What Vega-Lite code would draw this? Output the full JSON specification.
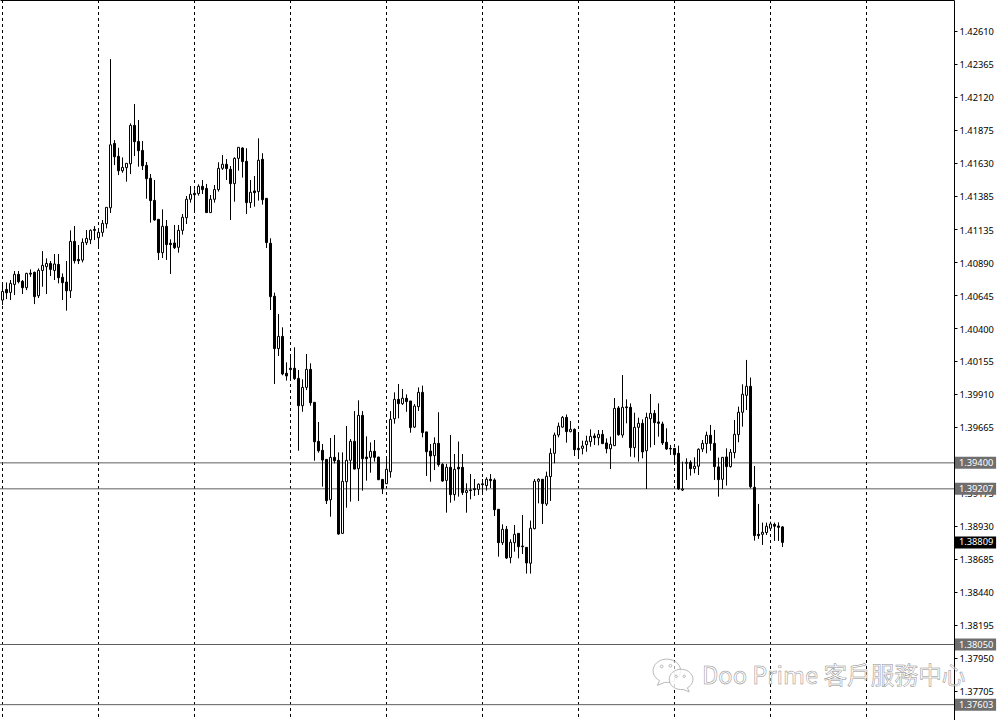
{"$schema":"https://vega.github.io/schema/vega-lite/v6.json","width":954,"height":720,"autosize":{"type":"none"},"padding":{"left":0,"top":0,"right":44,"bottom":0},"background":"#ffffff","config":{"view":{"stroke":null}},
"datasets":{"candles":[
{"i":0,"o":1.4061,"h":1.40741,"l":1.40573,"c":1.40674},{"i":1,"o":1.40689,"h":1.40741,"l":1.40617,"c":1.40664},{"i":2,"o":1.40667,"h":1.40759,"l":1.4061,"c":1.40734},{"i":3,"o":1.40726,"h":1.40826,"l":1.40647,"c":1.40801},{"i":4,"o":1.40801,"h":1.40826,"l":1.40734,"c":1.40746},{"i":5,"o":1.40749,"h":1.40759,"l":1.40655,"c":1.40702},{"i":6,"o":1.40702,"h":1.40813,"l":1.40684,"c":1.40808},{"i":7,"o":1.4081,"h":1.40838,"l":1.40783,"c":1.40803},{"i":8,"o":1.40816,"h":1.40821,"l":1.4058,"c":1.40635},{"i":9,"o":1.40642,"h":1.40845,"l":1.40625,"c":1.4083},
{"i":10,"o":1.4083,"h":1.40974,"l":1.40709,"c":1.40868},{"i":11,"o":1.40858,"h":1.4092,"l":1.40655,"c":1.40882},{"i":12,"o":1.40882,"h":1.409,"l":1.40788,"c":1.40838},{"i":13,"o":1.4083,"h":1.40952,"l":1.40759,"c":1.40878},{"i":14,"o":1.40875,"h":1.40952,"l":1.40734,"c":1.40776},{"i":15,"o":1.40779,"h":1.40808,"l":1.4061,"c":1.40739},{"i":16,"o":1.40744,"h":1.409,"l":1.40531,"c":1.40679},{"i":17,"o":1.40679,"h":1.41128,"l":1.40625,"c":1.41046},{"i":18,"o":1.41046,"h":1.4116,"l":1.40882,"c":1.40902},{"i":19,"o":1.40912,"h":1.41019,"l":1.40878,"c":1.40902},
{"i":20,"o":1.40907,"h":1.41068,"l":1.4089,"c":1.41039},{"i":21,"o":1.41036,"h":1.4113,"l":1.41019,"c":1.41068},{"i":22,"o":1.41058,"h":1.41135,"l":1.41026,"c":1.41128},{"i":23,"o":1.41135,"h":1.4116,"l":1.41056,"c":1.41128},{"i":24,"o":1.41073,"h":1.41143,"l":1.40989,"c":1.41113},{"i":25,"o":1.41113,"h":1.41205,"l":1.41081,"c":1.4118},{"i":26,"o":1.41177,"h":1.41299,"l":1.41143,"c":1.41299},{"i":27,"o":1.41296,"h":1.42401,"l":1.41257,"c":1.41764},{"i":28,"o":1.41774,"h":1.41799,"l":1.41613,"c":1.41675},{"i":29,"o":1.41678,"h":1.41742,"l":1.41539,"c":1.41571},
{"i":30,"o":1.41571,"h":1.4167,"l":1.41556,"c":1.41596},{"i":31,"o":1.41594,"h":1.41626,"l":1.4149,"c":1.41626},{"i":32,"o":1.41623,"h":1.41923,"l":1.41546,"c":1.41908},{"i":33,"o":1.41908,"h":1.42067,"l":1.4168,"c":1.41787},{"i":34,"o":1.41789,"h":1.41948,"l":1.41601,"c":1.4172},{"i":35,"o":1.41722,"h":1.41792,"l":1.41576,"c":1.41608},{"i":36,"o":1.41611,"h":1.41636,"l":1.41363,"c":1.41512},{"i":37,"o":1.41515,"h":1.41547,"l":1.41185,"c":1.41349},{"i":38,"o":1.41351,"h":1.41502,"l":1.412,"c":1.41205},{"i":39,"o":1.4121,"h":1.4121,"l":1.40908,"c":1.40962},
{"i":40,"o":1.40962,"h":1.41284,"l":1.40923,"c":1.41158},{"i":41,"o":1.41158,"h":1.41205,"l":1.40908,"c":1.41022},{"i":42,"o":1.41032,"h":1.41061,"l":1.40804,"c":1.41022},{"i":43,"o":1.41034,"h":1.41168,"l":1.4099,"c":1.40999},{"i":44,"o":1.41002,"h":1.41168,"l":1.40962,"c":1.41128},{"i":45,"o":1.41128,"h":1.4125,"l":1.41096,"c":1.41225},{"i":46,"o":1.41222,"h":1.41383,"l":1.41175,"c":1.41359},{"i":47,"o":1.41359,"h":1.41458,"l":1.41334,"c":1.41396},{"i":48,"o":1.41403,"h":1.41433,"l":1.4126,"c":1.41393},{"i":49,"o":1.41401,"h":1.4147,"l":1.41386,"c":1.41455},
{"i":50,"o":1.41455,"h":1.41502,"l":1.41398,"c":1.41431},{"i":51,"o":1.4144,"h":1.41473,"l":1.4126,"c":1.4126},{"i":52,"o":1.4126,"h":1.41391,"l":1.4126,"c":1.41359},{"i":53,"o":1.41359,"h":1.41465,"l":1.41334,"c":1.41431},{"i":54,"o":1.41431,"h":1.41634,"l":1.41416,"c":1.41589},{"i":55,"o":1.41589,"h":1.41688,"l":1.41577,"c":1.41619},{"i":56,"o":1.41619,"h":1.41658,"l":1.41502,"c":1.41587},{"i":57,"o":1.41582,"h":1.41606,"l":1.41205,"c":1.41475},{"i":58,"o":1.41475,"h":1.41671,"l":1.41341,"c":1.41663},{"i":59,"o":1.41663,"h":1.41745,"l":1.41572,"c":1.41745},
{"i":60,"o":1.4174,"h":1.41745,"l":1.4152,"c":1.41639},{"i":61,"o":1.41641,"h":1.41738,"l":1.4125,"c":1.41334},{"i":62,"o":1.41334,"h":1.41502,"l":1.41294,"c":1.41411},{"i":63,"o":1.41421,"h":1.41532,"l":1.41304,"c":1.41408},{"i":64,"o":1.41416,"h":1.41812,"l":1.41349,"c":1.41649},{"i":65,"o":1.41656,"h":1.41701,"l":1.41319,"c":1.41356},{"i":66,"o":1.41366,"h":1.41366,"l":1.40997,"c":1.41037},{"i":67,"o":1.41032,"h":1.41069,"l":1.40536,"c":1.40635},{"i":68,"o":1.40638,"h":1.40665,"l":1.39986,"c":1.40249},{"i":69,"o":1.40249,"h":1.40506,"l":1.40194,"c":1.4034},
{"i":70,"o":1.4034,"h":1.40407,"l":1.40051,"c":1.40061},{"i":71,"o":1.40066,"h":1.40147,"l":1.40011,"c":1.40046},{"i":72,"o":1.40103,"h":1.40209,"l":1.40016,"c":1.40093},{"i":73,"o":1.40103,"h":1.40259,"l":1.40016,"c":1.40026},{"i":74,"o":1.40028,"h":1.4009,"l":1.3949,"c":1.39825},{"i":75,"o":1.39825,"h":1.40021,"l":1.3978,"c":1.39961},{"i":76,"o":1.39961,"h":1.40209,"l":1.39941,"c":1.40095},{"i":77,"o":1.40095,"h":1.4014,"l":1.39825,"c":1.39847},{"i":78,"o":1.3985,"h":1.3985,"l":1.39416,"c":1.39557},{"i":79,"o":1.3956,"h":1.39704,"l":1.39476,"c":1.3949},
{"i":80,"o":1.39493,"h":1.3954,"l":1.39223,"c":1.39421},{"i":81,"o":1.39426,"h":1.39426,"l":1.39094,"c":1.39119},{"i":82,"o":1.39126,"h":1.39585,"l":1.39,"c":1.39441},{"i":83,"o":1.39441,"h":1.39607,"l":1.39396,"c":1.39416},{"i":84,"o":1.39419,"h":1.39478,"l":1.38866,"c":1.38871},{"i":85,"o":1.38876,"h":1.39478,"l":1.38876,"c":1.39263},{"i":86,"o":1.3926,"h":1.39674,"l":1.39067,"c":1.39419},{"i":87,"o":1.39419,"h":1.39577,"l":1.39112,"c":1.3956},{"i":88,"o":1.3956,"h":1.39785,"l":1.39352,"c":1.39354},{"i":89,"o":1.39357,"h":1.39865,"l":1.39116,"c":1.39753},
{"i":90,"o":1.39753,"h":1.39785,"l":1.39193,"c":1.39431},{"i":91,"o":1.39443,"h":1.39597,"l":1.39268,"c":1.39431},{"i":92,"o":1.39441,"h":1.39552,"l":1.39327,"c":1.39486},{"i":93,"o":1.39486,"h":1.3957,"l":1.39409,"c":1.39441},{"i":94,"o":1.39443,"h":1.39446,"l":1.39272,"c":1.39275},{"i":95,"o":1.39277,"h":1.39277,"l":1.39168,"c":1.39208},{"i":96,"o":1.39245,"h":1.39451,"l":1.39243,"c":1.39352},{"i":97,"o":1.39334,"h":1.39785,"l":1.3929,"c":1.39723},{"i":98,"o":1.39728,"h":1.39924,"l":1.39691,"c":1.39872},{"i":99,"o":1.39872,"h":1.39986,"l":1.39731,"c":1.3984},
{"i":100,"o":1.3984,"h":1.39949,"l":1.3983,"c":1.3988},{"i":101,"o":1.3988,"h":1.39909,"l":1.3978,"c":1.39855},{"i":102,"o":1.3986,"h":1.3986,"l":1.39624,"c":1.39662},{"i":103,"o":1.39666,"h":1.39837,"l":1.39659,"c":1.39822},{"i":104,"o":1.39818,"h":1.39961,"l":1.39786,"c":1.39924},{"i":105,"o":1.39924,"h":1.39974,"l":1.3959,"c":1.39625},{"i":106,"o":1.3963,"h":1.3963,"l":1.39303,"c":1.39483},{"i":107,"o":1.39488,"h":1.3954,"l":1.3926,"c":1.39451},{"i":108,"o":1.39454,"h":1.3959,"l":1.39347,"c":1.39545},{"i":109,"o":1.39545,"h":1.39776,"l":1.39372,"c":1.39387},
{"i":110,"o":1.39389,"h":1.39397,"l":1.3926,"c":1.39265},{"i":111,"o":1.3927,"h":1.39392,"l":1.3903,"c":1.39367},{"i":112,"o":1.39367,"h":1.39607,"l":1.39104,"c":1.39164},{"i":113,"o":1.39164,"h":1.39466,"l":1.39119,"c":1.39352},{"i":114,"o":1.39367,"h":1.39558,"l":1.39149,"c":1.39355},{"i":115,"o":1.39367,"h":1.39466,"l":1.39161,"c":1.39179},{"i":116,"o":1.39179,"h":1.39248,"l":1.3903,"c":1.39194},{"i":117,"o":1.39199,"h":1.39317,"l":1.39129,"c":1.39194},{"i":118,"o":1.39208,"h":1.3928,"l":1.39154,"c":1.39201},{"i":119,"o":1.39203,"h":1.39248,"l":1.39161,"c":1.39241},
{"i":120,"o":1.39244,"h":1.3928,"l":1.39161,"c":1.39238},{"i":121,"o":1.39231,"h":1.39293,"l":1.39194,"c":1.39278},{"i":122,"o":1.39278,"h":1.39317,"l":1.39213,"c":1.39268},{"i":123,"o":1.39273,"h":1.39285,"l":1.39005,"c":1.39052},{"i":124,"o":1.39055,"h":1.39055,"l":1.38703,"c":1.38807},{"i":125,"o":1.38807,"h":1.38943,"l":1.3879,"c":1.38906},{"i":126,"o":1.38906,"h":1.38931,"l":1.38686,"c":1.38693},{"i":127,"o":1.38696,"h":1.38832,"l":1.38654,"c":1.3881},{"i":128,"o":1.38807,"h":1.38938,"l":1.3874,"c":1.38869},{"i":129,"o":1.38876,"h":1.38876,"l":1.38691,"c":1.38777},
{"i":130,"o":1.38782,"h":1.39013,"l":1.38723,"c":1.38777},{"i":131,"o":1.38772,"h":1.38772,"l":1.38577,"c":1.38656},{"i":132,"o":1.38654,"h":1.38971,"l":1.38577,"c":1.38914},{"i":133,"o":1.38911,"h":1.3928,"l":1.38906,"c":1.39263},{"i":134,"o":1.39263,"h":1.39285,"l":1.39099,"c":1.39278},{"i":135,"o":1.39278,"h":1.39278,"l":1.38946,"c":1.39097},{"i":136,"o":1.39094,"h":1.39335,"l":1.3908,"c":1.393},{"i":137,"o":1.39298,"h":1.39508,"l":1.39117,"c":1.39471},{"i":138,"o":1.39471,"h":1.39625,"l":1.39397,"c":1.39607},{"i":139,"o":1.39607,"h":1.39699,"l":1.3959,"c":1.39672},
{"i":140,"o":1.39666,"h":1.39748,"l":1.39661,"c":1.39738},{"i":141,"o":1.39738,"h":1.3976,"l":1.3955,"c":1.39632},{"i":142,"o":1.39632,"h":1.39711,"l":1.39627,"c":1.39649},{"i":143,"o":1.39649,"h":1.39656,"l":1.39451,"c":1.39498},{"i":144,"o":1.39508,"h":1.39627,"l":1.39429,"c":1.39498},{"i":145,"o":1.39508,"h":1.39565,"l":1.39463,"c":1.39525},{"i":146,"o":1.39535,"h":1.39602,"l":1.39483,"c":1.39562},{"i":147,"o":1.39557,"h":1.39649,"l":1.3952,"c":1.39597},{"i":148,"o":1.396,"h":1.39619,"l":1.39533,"c":1.39587},{"i":149,"o":1.39587,"h":1.39644,"l":1.3953,"c":1.39612},
{"i":150,"o":1.39612,"h":1.39644,"l":1.3954,"c":1.39543},{"i":151,"o":1.39548,"h":1.39582,"l":1.39471,"c":1.39505},{"i":152,"o":1.39505,"h":1.39595,"l":1.39354,"c":1.39538},{"i":153,"o":1.39528,"h":1.39882,"l":1.39525,"c":1.39805},{"i":154,"o":1.39808,"h":1.39822,"l":1.39602,"c":1.39609},{"i":155,"o":1.39607,"h":1.40053,"l":1.39587,"c":1.39813},{"i":156,"o":1.39816,"h":1.39872,"l":1.39694,"c":1.3981},{"i":157,"o":1.39813,"h":1.39842,"l":1.39446,"c":1.39513},{"i":158,"o":1.39513,"h":1.39773,"l":1.39441,"c":1.39664},{"i":159,"o":1.39664,"h":1.39736,"l":1.39409,"c":1.39694},
{"i":160,"o":1.39694,"h":1.39723,"l":1.39434,"c":1.39481},{"i":161,"o":1.3949,"h":1.39773,"l":1.39206,"c":1.39738},{"i":162,"o":1.39728,"h":1.39912,"l":1.39515,"c":1.39768},{"i":163,"o":1.39768,"h":1.39793,"l":1.39533,"c":1.39699},{"i":164,"o":1.39704,"h":1.39842,"l":1.39595,"c":1.39694},{"i":165,"o":1.39689,"h":1.39706,"l":1.39533,"c":1.39548},{"i":166,"o":1.39553,"h":1.39657,"l":1.39496,"c":1.39503},{"i":167,"o":1.39508,"h":1.39533,"l":1.39459,"c":1.39503},{"i":168,"o":1.39508,"h":1.3951,"l":1.39385,"c":1.39461},{"i":169,"o":1.39471,"h":1.39528,"l":1.392,"c":1.39206},
{"i":170,"o":1.39198,"h":1.39409,"l":1.39191,"c":1.39206},{"i":171,"o":1.39397,"h":1.39434,"l":1.39273,"c":1.39404},{"i":172,"o":1.39404,"h":1.39419,"l":1.39305,"c":1.39357},{"i":173,"o":1.39357,"h":1.39441,"l":1.39323,"c":1.39375},{"i":174,"o":1.39375,"h":1.39508,"l":1.3931,"c":1.39501},{"i":175,"o":1.39503,"h":1.3957,"l":1.39481,"c":1.39545},{"i":176,"o":1.39543,"h":1.39632,"l":1.39471,"c":1.39605},{"i":177,"o":1.39605,"h":1.39682,"l":1.39491,"c":1.39545},{"i":178,"o":1.39545,"h":1.39645,"l":1.39273,"c":1.39372},{"i":179,"o":1.3937,"h":1.39439,"l":1.39149,"c":1.39275},
{"i":180,"o":1.39278,"h":1.39441,"l":1.39206,"c":1.39441},{"i":181,"o":1.39444,"h":1.39508,"l":1.39231,"c":1.39372},{"i":182,"o":1.39372,"h":1.39503,"l":1.39365,"c":1.39479},{"i":183,"o":1.39476,"h":1.39719,"l":1.39434,"c":1.39612},{"i":184,"o":1.3961,"h":1.39818,"l":1.39553,"c":1.39776},{"i":185,"o":1.39776,"h":1.39984,"l":1.39669,"c":1.3991},{"i":186,"o":1.39902,"h":1.40165,"l":1.39793,"c":1.39969},{"i":187,"o":1.39969,"h":1.40034,"l":1.39211,"c":1.39223},{"i":188,"o":1.39218,"h":1.39377,"l":1.38822,"c":1.38859},{"i":189,"o":1.38869,"h":1.39095,"l":1.38835,"c":1.38859},
{"i":190,"o":1.38869,"h":1.38956,"l":1.3879,"c":1.38884},{"i":191,"o":1.38882,"h":1.38956,"l":1.38864,"c":1.38929},{"i":192,"o":1.38914,"h":1.38963,"l":1.38897,"c":1.38946},{"i":193,"o":1.38943,"h":1.38956,"l":1.3882,"c":1.38929},{"i":194,"o":1.38931,"h":1.38958,"l":1.3882,"c":1.38921},{"i":195,"o":1.38924,"h":1.38929,"l":1.38775,"c":1.38809}],
"separators":[{"i":0},{"i":24},{"i":48},{"i":72},{"i":96},{"i":120},{"i":144},{"i":168},{"i":192},{"i":216}],
"levels":[{"p":1.394},{"p":1.39207},{"p":1.3805},{"p":1.37603}],
"bid":[{"p":1.38809}]},
"layer":[
{"data":{"name":"separators"},"mark":{"type":"rule","color":"#000000","strokeWidth":1,"strokeDash":[3,3]},"encoding":{"x":{"field":"i","type":"quantitative","scale":{"domain":[-0.625,237.875],"nice":false,"zero":false,"padding":0},"axis":{"orient":"top","title":null,"labels":false,"ticks":false,"grid":false,"domainColor":"#000000","domainWidth":1}}}},
{"data":{"name":"levels"},"mark":{"type":"rule","color":"#5e5e5e","strokeWidth":1},"encoding":{"y":{"field":"p","type":"quantitative","scale":{"domain":[1.37489,1.4284],"nice":false,"zero":false,"padding":0},"axis":{"orient":"right","title":null,"grid":false,"values":[1.4261,1.42365,1.4212,1.41875,1.4163,1.41385,1.41135,1.4089,1.40645,1.404,1.40155,1.3991,1.39665,1.3942,1.39175,1.3893,1.38685,1.3844,1.38195,1.3795,1.37705],"tickCount":40,"format":".5f","labelFont":"Noto Sans","labelFontSize":9.3,"labelColor":"#000000","labelPadding":2,"labelOffset":0.7,"tickSize":3,"tickColor":"#000000","domainColor":"#000000","labelFlush":false,"labelOverlap":false}}}},
{"data":{"name":"candles"},"mark":{"type":"rule","color":"#000000","strokeWidth":1},"encoding":{"x":{"field":"i","type":"quantitative","scale":{"domain":[-0.625,237.875],"nice":false,"zero":false,"padding":0}},"y":{"field":"h","type":"quantitative","scale":{"domain":[1.37489,1.4284],"nice":false,"zero":false,"padding":0}},"y2":{"field":"l"}}},
{"data":{"name":"candles"},"mark":{"type":"bar","orient":"vertical","size":2,"stroke":"#000000","strokeWidth":1},"encoding":{"x":{"field":"i","type":"quantitative","scale":{"domain":[-0.625,237.875],"nice":false,"zero":false,"padding":0}},"y":{"field":"o","type":"quantitative","scale":{"domain":[1.37489,1.4284],"nice":false,"zero":false,"padding":0}},"y2":{"field":"c"},"fill":{"condition":{"test":"datum.c>=datum.o","value":"#ffffff"},"value":"#000000"}}},
{"data":{"name":"levels"},"mark":{"type":"bar","orient":"horizontal","size":12,"color":"#6e6e6e"},"encoding":{"x":{"datum":238.125,"type":"quantitative","scale":{"domain":[-0.625,237.875],"nice":false,"zero":false,"padding":0}},"x2":{"datum":248.4},"y":{"field":"p","type":"quantitative","scale":{"domain":[1.37489,1.4284],"nice":false,"zero":false,"padding":0}}}},
{"data":{"name":"levels"},"mark":{"type":"text","align":"left","baseline":"middle","color":"#ffffff","font":"Noto Sans","fontSize":9.3},"encoding":{"x":{"datum":239.1,"type":"quantitative","scale":{"domain":[-0.625,237.875],"nice":false,"zero":false,"padding":0}},"y":{"field":"p","type":"quantitative","scale":{"domain":[1.37489,1.4284],"nice":false,"zero":false,"padding":0}},"text":{"field":"p","type":"quantitative","format":".5f"}}},
{"data":{"name":"bid"},"mark":{"type":"bar","orient":"horizontal","size":12,"color":"#000000"},"encoding":{"x":{"datum":238.125,"type":"quantitative","scale":{"domain":[-0.625,237.875],"nice":false,"zero":false,"padding":0}},"x2":{"datum":248.4},"y":{"field":"p","type":"quantitative","scale":{"domain":[1.37489,1.4284],"nice":false,"zero":false,"padding":0}}}},
{"data":{"name":"bid"},"mark":{"type":"text","align":"left","baseline":"middle","color":"#ffffff","font":"Noto Sans","fontSize":9.3},"encoding":{"x":{"datum":239.1,"type":"quantitative","scale":{"domain":[-0.625,237.875],"nice":false,"zero":false,"padding":0}},"y":{"field":"p","type":"quantitative","scale":{"domain":[1.37489,1.4284],"nice":false,"zero":false,"padding":0}},"text":{"field":"p","type":"quantitative","format":".5f"}}},
{"data":{"values":[{"t":"Doo Prime 客戶服務中心"}]},"mark":{"type":"text","align":"left","baseline":"middle","font":"Noto Sans CJK TC","fontSize":23.7,"fill":"#ffffff","fillOpacity":0.5,"stroke":"#8c8c8c","strokeWidth":0.5},"encoding":{"x":{"datum":174.875,"type":"quantitative","scale":{"domain":[-0.625,237.875],"nice":false,"zero":false,"padding":0}},"y":{"datum":1.37809,"type":"quantitative","scale":{"domain":[1.37489,1.4284],"nice":false,"zero":false,"padding":0}},"text":{"field":"t"}}},
{"data":{"values":[{"t":"big"}]},"mark":{"type":"point","filled":false,"fill":"#ffffff","fillOpacity":0.6,"stroke":"#b8b8b8","strokeWidth":1,"size":841,"shape":"M0.9,0A0.95,0.8 0 1,0 -0.55,0.62L-0.7,0.95L-0.2,0.75A0.95,0.8 0 0,0 0.9,0ZM-0.5,-0.35a0.1,0.1 0 1,0 0.2,0a0.1,0.1 0 1,0 -0.2,0ZM0.1,-0.4a0.1,0.1 0 1,0 0.2,0a0.1,0.1 0 1,0 -0.2,0Z"},"encoding":{"x":{"datum":166.25,"type":"quantitative","scale":{"domain":[-0.625,237.875],"nice":false,"zero":false,"padding":0}},"y":{"datum":1.37849,"type":"quantitative","scale":{"domain":[1.37489,1.4284],"nice":false,"zero":false,"padding":0}}}},
{"data":{"values":[{"t":"small"}]},"mark":{"type":"point","filled":false,"fill":"#ffffff","fillOpacity":0.8,"stroke":"#b8b8b8","strokeWidth":1,"size":625,"shape":"M-0.9,0A0.95,0.8 0 1,1 0.55,0.62L0.7,0.95L0.2,0.75A0.95,0.8 0 0,1 -0.9,0ZM-0.45,-0.3a0.1,0.1 0 1,0 0.2,0a0.1,0.1 0 1,0 -0.2,0ZM0.2,-0.3a0.1,0.1 0 1,0 0.2,0a0.1,0.1 0 1,0 -0.2,0Z"},"encoding":{"x":{"datum":169.5,"type":"quantitative","scale":{"domain":[-0.625,237.875],"nice":false,"zero":false,"padding":0}},"y":{"datum":1.37786,"type":"quantitative","scale":{"domain":[1.37489,1.4284],"nice":false,"zero":false,"padding":0}}}}
]}
